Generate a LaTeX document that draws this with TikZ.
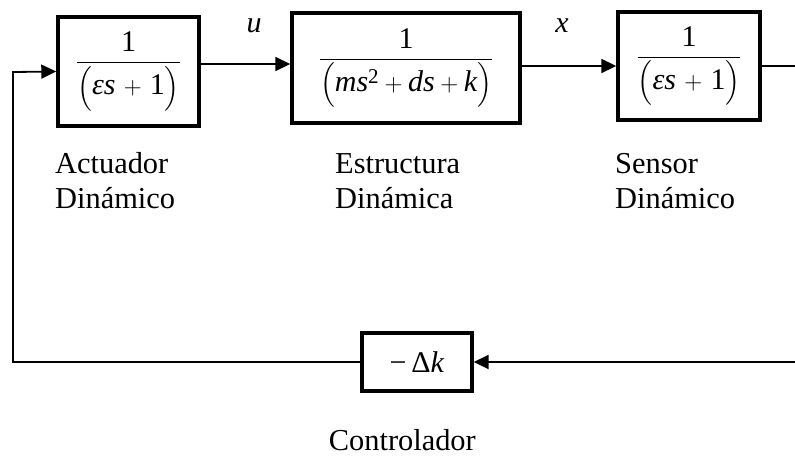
\documentclass[tikz,border=0pt]{standalone}
\usepackage{amsmath}
\usepackage{fontspec}
\setmainfont{Liberation Serif}
\usetikzlibrary{arrows.meta,calc}
\newcommand{\iv}[1]{\text{\itshape #1}}
\newcommand{\rv}[1]{\text{\upshape #1}}
\begin{document}
\begin{tikzpicture}[x=1pt,y=-1pt,
  blk/.style={draw,line width=3.4pt,inner sep=0pt,font=\fontsize{30}{34}\selectfont},
  lbl/.style={anchor=base west,align=left,inner sep=0pt,font=\fontsize{30.4}{35}\selectfont},
  sig/.style={anchor=base,inner sep=0pt,font=\fontsize{30}{34}\selectfont\itshape},
  conn/.style={line width=1.8pt},
  arr/.style={conn,-{Triangle[length=15pt,width=14pt]}}]
\useasboundingbox (0,0) rectangle (795,456);
\node[blk,minimum width=141pt,minimum height=109pt] (b1) at (128.5,71.5)
  {$\dfrac{\rv{1}}{\Bigl(\iv{εs}\mkern2mu+\mkern2mu\rv{1}\Bigr)}$};
\node[blk,minimum width=228pt,minimum height=110pt] (b2) at (406,68)
  {$\dfrac{\rv{1}}{\Bigl(\iv{ms}^{\rv{2}}+\iv{ds}+\iv{k}\Bigr)}$};
\node[blk,minimum width=142pt,minimum height=108pt] (b3) at (689,66)
  {$\dfrac{\rv{1}}{\Bigl(\iv{εs}\mkern2mu+\mkern2mu\rv{1}\Bigr)}$};
\node[blk,minimum width=110pt,minimum height=58pt] (b4) at (417,362)
  {−\,Δ\textit{k}};
\node[sig] (lu) at (254,32) {u};
\node[sig] (lx) at (562,32) {x};
\node[lbl] (t1) at (55,208) {Actuador\\Dinámico};
\node[lbl] (t2) at (335,208) {Estructura\\Dinámica};
\node[lbl] (t3) at (615,208) {Sensor\\Dinámico};
\node[lbl,anchor=base east] (t4) at (476,450) {Controlador};
\coordinate (ll) at (13,362);
\coordinate (lu1) at (13,72);
\coordinate (rl) at (797,362);
\coordinate (ru) at (797,66);
\draw[arr] ($(b1.east)+(0,-7.5)$) -- ($(b2.west)+(0,-4)$);
\draw[arr] (b2.east |- b3.west) -- (b3.west);
\draw[conn] (b3.east) -- (ru) -- (rl);
\draw[arr] (rl) -- (b4.east);
\draw[arr] (b4.west) -- (ll) -- (lu1) -- (b1.west);
\end{tikzpicture}
\end{document}
